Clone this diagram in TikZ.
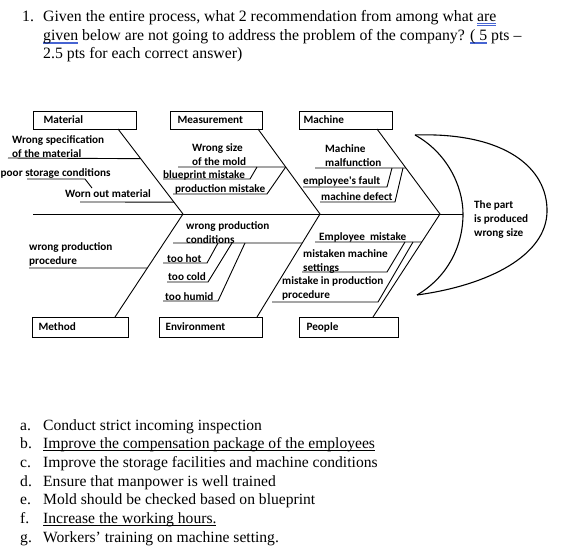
\documentclass[tikz,border=0pt]{standalone}
\usepackage{fontspec}
\usetikzlibrary{calc}
\setmainfont{Liberation Serif}
\newfontfamily\calibri{Carlito}
\definecolor{dulblue}{RGB}{70,100,210}
\newcommand\dul[1]{\setbox0\hbox{#1}\leavevmode\rlap{\textcolor{dulblue}{\rule[-2.2pt]{\wd0}{0.55pt}}}\rlap{\textcolor{dulblue}{\rule[-3.8pt]{\wd0}{0.55pt}}}\box0\relax}
\newcommand\sul[1]{\setbox0\hbox{#1}\leavevmode\rlap{\rule[-2.4pt]{\wd0}{0.7pt}}\box0\relax}
\tikzset{
  hdr/.style={font=\fontsize{15.8}{18.7}\selectfont, inner sep=0pt, align=left},
  itm/.style={font=\fontsize{15.6}{18.7}\selectfont, inner sep=0pt, anchor=base west},
  dl/.style={font=\calibri\bfseries\fontsize{11.2}{14}\selectfont, inner sep=0pt, align=left},
  catbox/.style={draw, line width=1.1pt, anchor=north west, inner sep=0pt, align=left,
     font=\calibri\bfseries\fontsize{11.2}{14}\selectfont, text height=7.5pt, text depth=2pt},
  bone/.style={line width=0.9pt},
}
\begin{document}
\begin{tikzpicture}[x=1pt,y=-1pt]
\useasboundingbox (0,0) rectangle (568,554);

% question
\node[hdr, anchor=north west] (q) at (22,10) {\makebox[21pt][l]{1.}Given the entire process, what 2 recommendation from among what \dul{are}\\
\hspace*{21pt}\dul{given} below are not going to address the problem of the company? \dul{( 5} pts --\\
\hspace*{21pt}2.5 pts for each correct answer)};

% category boxes
\node[catbox, text width=103pt, minimum height=18pt] (mat) at (33,111) {\hspace*{10pt}Material};
\node[catbox, text width=92pt, minimum height=18pt] (mea) at (170,111) {\hspace*{7pt}Measurement};
\node[catbox, text width=93pt, minimum height=18pt] (mac) at (299,111) {\hspace*{4pt}Machine};
\node[catbox, text width=96pt, minimum height=20pt] (met) at (32,317) {\hspace*{6pt}Method};
\node[catbox, text width=103pt, minimum height=20pt] (env) at (159,317) {\hspace*{6pt}Environment};
\node[catbox, text width=99pt, minimum height=20pt] (peo) at (299,317) {\hspace*{7pt}People};

% spine and head
\coordinate (tail) at (33,214);
\coordinate (j1) at (183,214);
\coordinate (j2) at (320,214);
\coordinate (j3) at (440,214);
\coordinate (ht) at (415,135);
\coordinate (hi) at (463,214);
\coordinate (ho) at (547,212);
\coordinate (hb) at (417,295);
\draw[bone] (tail) -- (hi);
\draw[line width=1.1pt] (ht) .. controls (446,152) and (463,185) .. (hi)
   .. controls (463,248) and (446,278) .. (hb);
\draw[line width=1.1pt] (ht) .. controls (505,132) and (548,168) .. (ho)
   .. controls (546,255) and (490,285) .. (hb);
\node[dl, anchor=west] (effect) at (474,219.5) {The part\\is produced\\wrong size};

% main bones
\coordinate (matd) at (118,129);
\coordinate (mead) at (258,129);
\coordinate (macd) at (377,129);
\coordinate (metd) at (115,317);
\coordinate (envd) at (257,317);
\coordinate (peod) at (373,317);
\draw[bone] (matd) -- (j1);
\draw[bone] (mead) -- (j2);
\draw[bone] (macd) -- (j3);
\draw[bone] (j1) -- (metd);
\draw[bone] (j2) -- (envd);
\draw[bone] (j3) -- (peod);

% Material causes
\node[dl, anchor=west] (m1) at (12,146.5) {Wrong specification\\of the material};
\draw[bone] (8,158) -- ($(matd)!0.349!(j1)$);
\node[dl, anchor=base west] (m2) at (0.5,176.5) {poor storage conditions};
\draw[bone] (27,179) -- (85,179) -- (92,188);
\node[dl, anchor=base west] (m3) at (65,197.5) {Worn out material};
\draw[bone] (80,202) -- ($(matd)!0.86!(j1)$);

% Measurement causes
\coordinate (ws) at ($(mead)!0.447!(j2)$);
\node[dl, anchor=west] (s1) at (192,155) {Wrong size\\of the mold};
\draw[bone] (178,167) -- (ws);
\node[dl, anchor=base west] (s2) at (163,178.5) {blueprint mistake};
\draw[bone] (163,179) -- (250,179) -- (257,167);
\node[dl, anchor=base west] (s3) at (175,192.5) {production mistake};
\draw[bone] (173,194) -- (267,194) -- (ws);

% Machine causes
\coordinate (mf) at ($(macd)!0.459!(j3)$);
\node[dl, anchor=west] (c1) at (325,155.5) {Machine\\malfunction};
\draw[bone] (315,168) -- (mf);
\node[dl, anchor=base west] (c2) at (303,184.5) {employee's fault};
\draw[bone] (303,187) -- (387,187) -- (392,168);
\node[dl, anchor=base west] (c3) at (321,200.5) {machine defect};
\draw[bone] (320,202) -- (395,202) -- (403,168);

% Method causes
\node[dl, anchor=west] (t1) at (29,254.5) {wrong production\\procedure};
\draw[bone] (29,268) -- ($(j1)!0.524!(metd)$);

% Environment causes
\node[dl, anchor=west] (e1) at (186,233) {wrong production\\conditions};
\draw[bone] (173,243) -- ($(j2)!0.282!(envd)$);
\node[dl, anchor=base west] (e2) at (167,262.5) {too hot};
\draw[bone] (163,263) -- (207,263) -- (218,243);
\node[dl, anchor=base west] (e3) at (168,280.5) {too cold};
\draw[bone] (167,282) -- (208,282) -- (232,243);
\node[dl, anchor=base west] (e4) at (165,300.5) {too humid};
\draw[bone] (163,301) -- (218,301) -- (245,243);

% People causes
\node[dl, anchor=base west] (p1) at (319,240.5) {Employee\ \ mistake};
\draw[bone] (315,242) -- ($(j3)!0.272!(peod)$);
\node[dl, anchor=west] (p2) at (303,262) {mistaken machine\\settings};
\draw[bone] (302,272) -- (387,272) -- (405,242);
\node[dl, anchor=west] (p3) at (282,288) {mistake in production\\procedure};
\draw[bone] (272,302) -- (378,302) -- (413,242);

% answers
\node[itm] (ia) at (20,430) {\makebox[23pt][l]{a.}Conduct strict incoming inspection};
\node[itm] (ib) at (20,448.7) {\makebox[23pt][l]{b.}\sul{Improve the compensation package of the employees}};
\node[itm] (ic) at (20,467.4) {\makebox[23pt][l]{c.}Improve the storage facilities and machine conditions};
\node[itm] (id) at (20,486.1) {\makebox[23pt][l]{d.}Ensure that manpower is well trained};
\node[itm] (ie) at (20,504.8) {\makebox[23pt][l]{e.}Mold should be checked based on blueprint};
\node[itm] (if) at (20,523.5) {\makebox[23pt][l]{f.}\sul{Increase the working hours.}};
\node[itm] (ig) at (20,542.2) {\makebox[23pt][l]{g.}Workers’ training on machine setting.};
\end{tikzpicture}
\end{document}
